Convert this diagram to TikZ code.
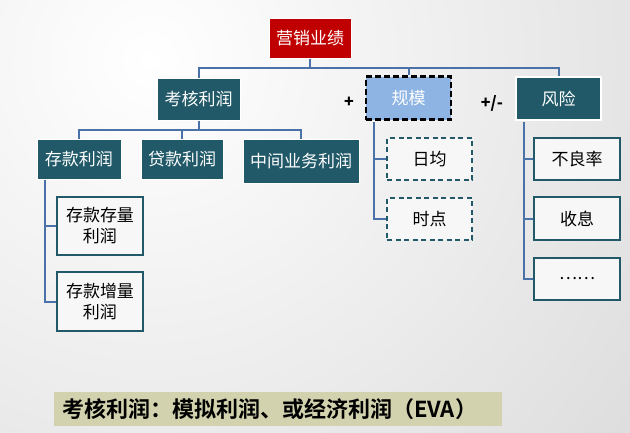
\documentclass[tikz,border=0pt]{standalone}
\usepackage{fontspec}
\setmainfont{Noto Sans CJK SC}
\newfontfamily\cjkbold[BoldFont={Noto Sans CJK SC Bold}]{Noto Sans CJK SC}
\usetikzlibrary{positioning,calc}
\definecolor{teal1}{HTML}{215968}
\definecolor{redbox}{HTML}{C00000}
\definecolor{lblue}{HTML}{8EB4E3}
\definecolor{conn}{HTML}{4A72A8}
\definecolor{banner}{HTML}{D2D3AE}
\begin{document}
\begin{tikzpicture}[x=1pt,y=-1pt,
  box/.style={draw=white,line width=1pt,fill=teal1,text=white,inner sep=0pt,font=\fontsize{17}{20}\selectfont,align=center},
  leaf/.style={draw=teal1,line width=2pt,fill=white!94!gray,text=black,inner sep=0pt,font=\fontsize{17}{21}\selectfont,align=center},
  dleaf/.style={leaf,dash pattern=on 5pt off 3.5pt},
  link/.style={draw=conn,line width=2pt},
  sign/.style={font=\bfseries\fontsize{16}{18}\selectfont,text=black,inner sep=0pt}]
\useasboundingbox (0,0) rectangle (630,432);
\begin{scope}
\clip (0,0) rectangle (630,432);
\fill[black!14] (0,0) rectangle (630,432);
\shade[inner color=white,outer color=black!14] (150,60) circle (650);
\end{scope}
% nodes
\node[box,fill=redbox,minimum width=82pt,minimum height=40pt] (top) at (310,38) {营销业绩};
\node[box,minimum width=83pt,minimum height=42pt] (kh) at (198.5,99) {考核利润};
\node[box,fill=lblue,draw=black,line width=2.5pt,dash pattern=on 6pt off 3pt,minimum width=85pt,minimum height=43pt] (gm) at (408.5,98) {规模};
\node[box,line width=1.5pt,minimum width=85pt,minimum height=43pt] (fx) at (558.5,98.5) {风险};
\node[box,minimum width=84pt,minimum height=40pt] (ck) at (79,159) {存款利润};
\node[box,minimum width=82pt,minimum height=40pt] (dk) at (182,159) {贷款利润};
\node[box,minimum width=116pt,minimum height=44pt] (zj) at (301,161) {中间业务利润};
\node[leaf,minimum width=86pt,minimum height=58pt] (cl) at (100,226) {存款存量\\利润};
\node[leaf,minimum width=86pt,minimum height=59pt] (zl) at (100,301.5) {存款增量\\利润};
\node[dleaf,minimum width=85pt,minimum height=42pt] (rj) at (429.5,159) {日均};
\node[dleaf,minimum width=85pt,minimum height=42pt] (sd) at (429.5,219) {时点};
\node[leaf,minimum width=86pt,minimum height=42pt] (bl) at (577,159) {不良率};
\node[leaf,minimum width=86pt,minimum height=43pt] (sx) at (577,218.5) {收息};
\node[leaf,minimum width=86pt,minimum height=42pt] (dt) at (577,279) {……};
\node[sign] (plus) at (349,102) {+};
\node[sign] (pm) at (492,103) {+/-};
\node[fill=banner,minimum width=448pt,minimum height=34pt,inner sep=0pt] (bn) at (278,409) {};
\node[anchor=west,inner sep=0pt,font=\cjkbold\bfseries\fontsize{22}{24}\selectfont] (bt) at (62,409) {考核利润：模拟利润、或经济利润（EVA）};
% connectors
\coordinate (bus1) at (310,68);
\coordinate (bus2) at (198.5,130);
\draw[link] (top.south) -- (top.south |- bus1);
\draw[link] (kh.north) |- (bus1) -| (fx.north);
\draw[link] (gm.north) -- (gm.north |- bus1);
\draw[link] (kh.south) -- (bus2);
\draw[link] (ck.north) |- (bus2) -| (zj.north);
\draw[link] (dk.north) -- (dk.north |- bus2);
\coordinate (ckd) at ($(ck.south west)+(8,0)$);
\draw[link] (ckd) |- (cl.west);
\draw[link] (ckd) |- (zl.west);
\coordinate (gmd) at ($(gm.south west)+(9,1.5)$);
\draw[link] (gmd) |- (rj.west);
\draw[link] (gmd) |- (sd.west);
\coordinate (fxd) at ($(fx.south west)+(9,1)$);
\draw[link] (fxd) |- (bl.west);
\draw[link] (fxd) |- (sx.west);
\draw[link] (fxd) |- (dt.west);
\end{tikzpicture}
\end{document}
